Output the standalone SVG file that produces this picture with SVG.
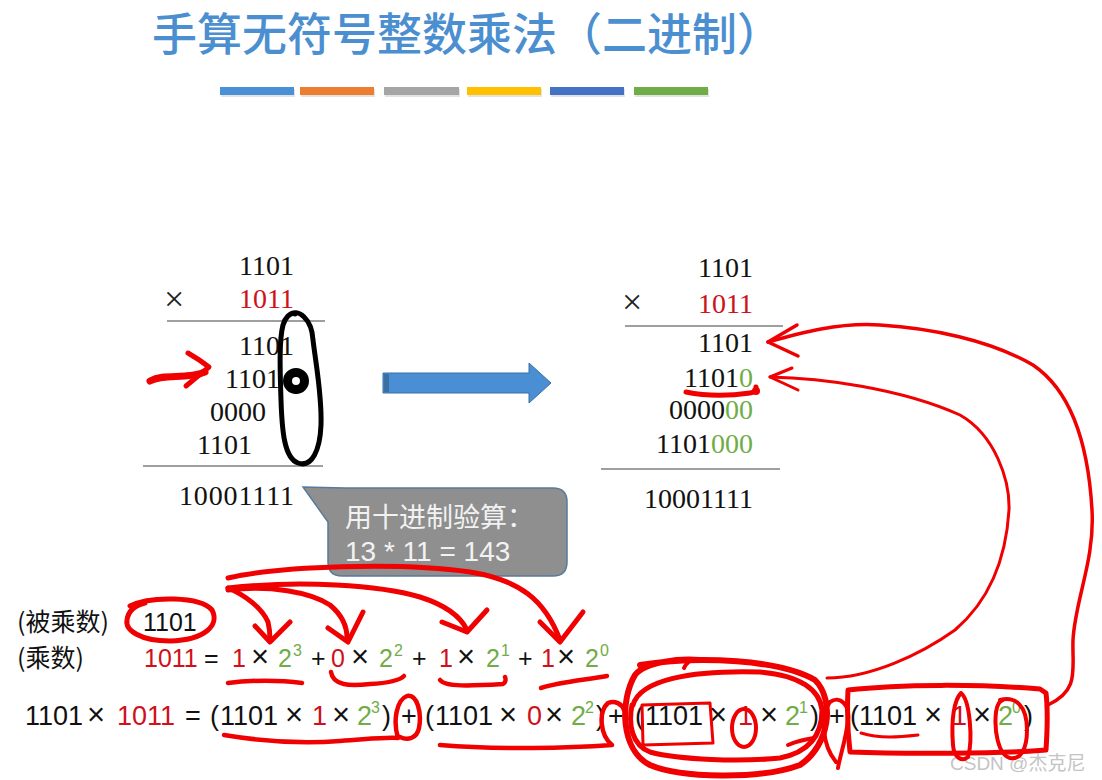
<svg xmlns="http://www.w3.org/2000/svg" width="1102" height="780" viewBox="0 0 1102 780">
<defs>
<style>
.title{font-family:"Noto Sans CJK SC","Noto Sans",sans-serif;font-size:45px;fill:#4b8fd1;font-weight:500}
.tm{font-family:"Liberation Serif","Times New Roman",serif;font-size:28px;fill:#111}
.tmx{font-family:"Liberation Serif","Times New Roman",serif;font-size:36px;fill:#222}
.red{fill:#d0101a}
.grn{fill:#70ad47}
.blk{fill:#111}
.f{font-family:"Liberation Sans",Arial,sans-serif;font-size:27px;fill:#111}
.f2{font-family:"Liberation Sans",Arial,sans-serif;font-size:25px;fill:#111}
.cjk{font-family:"Noto Sans CJK SC",sans-serif;font-size:25px;fill:#111}
.sup{font-size:16px}
.mul{font-size:31px}
.rule{stroke:#7f7f7f;stroke-width:1.5}
.pen{fill:none;stroke:#f00000;stroke-linecap:round;stroke-linejoin:round}
.ink{fill:none;stroke:#000;stroke-linecap:round;stroke-linejoin:round}
</style>
</defs>
<rect width="1102" height="780" fill="#ffffff"/>

<g id="title">
<text class="title" x="152" y="51">手算无符号整数乘法（二进制）</text>
</g>

<g id="colorbars">
<rect x="221" y="89" width="74" height="8" fill="#d0d0d0" opacity="0.6"/>
<rect x="301" y="89" width="74" height="8" fill="#d0d0d0" opacity="0.6"/>
<rect x="385" y="89" width="75" height="8" fill="#d0d0d0" opacity="0.6"/>
<rect x="468" y="89" width="74" height="8" fill="#d0d0d0" opacity="0.6"/>
<rect x="551" y="89" width="74" height="8" fill="#d0d0d0" opacity="0.6"/>
<rect x="635" y="89" width="74" height="8" fill="#d0d0d0" opacity="0.6"/>
<rect x="220" y="87" width="74" height="8" fill="#4a90d6"/>
<rect x="300" y="87" width="74" height="8" fill="#ed7d31"/>
<rect x="384" y="87" width="75" height="8" fill="#a5a5a5"/>
<rect x="467" y="87" width="74" height="8" fill="#ffc000"/>
<rect x="550" y="87" width="74" height="8" fill="#4472c4"/>
<rect x="634" y="87" width="74" height="8" fill="#70ad47"/>
</g>

<g id="left-calc">
<text class="tm" x="294" y="275" text-anchor="end">1101</text>
<text class="tmx" x="164" y="311">×</text>
<text class="tm red" x="294" y="308" text-anchor="end">1011</text>
<line class="rule" x1="167" y1="321" x2="325" y2="321"/>
<text class="tm" x="294" y="355" text-anchor="end">1101</text>
<text class="tm" x="280" y="388" text-anchor="end">1101</text>
<text class="tm" x="266" y="421" text-anchor="end">0000</text>
<text class="tm" x="252" y="454" text-anchor="end">1101</text>
<line class="rule" x1="143" y1="466" x2="323" y2="466"/>
<text class="tm" x="294" y="505" text-anchor="end" textLength="115" lengthAdjust="spacing">10001111</text>
</g>

<g id="right-calc">
<text class="tm" x="753" y="277" text-anchor="end">1101</text>
<text class="tmx" x="622" y="314">×</text>
<text class="tm red" x="753" y="313" text-anchor="end">1011</text>
<line class="rule" x1="625" y1="326" x2="783" y2="326"/>
<text class="tm" x="753" y="352" text-anchor="end">1101</text>
<text class="tm" x="753" y="387" text-anchor="end">1101<tspan class="grn">0</tspan></text>
<text class="tm" x="753" y="419" text-anchor="end">0000<tspan class="grn">00</tspan></text>
<text class="tm" x="753" y="453" text-anchor="end">1101<tspan class="grn">000</tspan></text>
<line class="rule" x1="601" y1="469" x2="780" y2="469"/>
<text class="tm" x="753" y="508" text-anchor="end">10001111</text>
</g>

<g id="block-arrow">
<path d="M383,373 H529 V363 L551,383 L529,403 V393 H383 Z" fill="#4a8fd3" stroke="#3b6ea5" stroke-width="1"/>
<rect x="384" y="374" width="5" height="18" fill="#3a6fa6"/>
</g>

<g id="callout">
<path d="M303,487 L345,488 H553 Q567,488 567,502 V562 Q567,576 553,576 H342 Q328,576 328,562 V522 Z" fill="#8f8f8f" stroke="#587a9c" stroke-width="1.5"/>
<text x="345" y="527" style="font-family:'Noto Sans CJK SC',sans-serif;font-size:27px;fill:#f2f2f2">用十进制验算：</text>
<text x="345" y="561" style="font-family:'Liberation Sans',Arial,sans-serif;font-size:28px;fill:#f2f2f2">13 * 11 = 143</text>
</g>

<g id="row-multiplicand">
<text class="cjk" x="17" y="631">(被乘数)</text>
<text class="f2" x="143" y="631">1101</text>
</g>

<g id="row-multiplier">
<text class="cjk" x="17" y="667">(乘数)</text>
<text class="f2" y="667"><tspan class="red" x="144">1011</tspan><tspan x="204">=</tspan><tspan class="red" x="232">1</tspan><tspan class="mul" x="251">×</tspan><tspan class="grn" x="278">2</tspan><tspan class="grn sup" x="293" y="656">3</tspan><tspan x="311" y="667">+</tspan><tspan class="red" x="331">0</tspan><tspan class="mul" x="351">×</tspan><tspan class="grn" x="379">2</tspan><tspan class="grn sup" x="394" y="656">2</tspan><tspan x="412" y="667">+</tspan><tspan class="red" x="439">1</tspan><tspan class="mul" x="457">×</tspan><tspan class="grn" x="486">2</tspan><tspan class="grn sup" x="501" y="656">1</tspan><tspan x="518" y="667">+</tspan><tspan class="red" x="541">1</tspan><tspan class="mul" x="557">×</tspan><tspan class="grn" x="585">2</tspan><tspan class="grn sup" x="600" y="656">0</tspan></text>
</g>

<g id="row-product">
<text class="f" y="725"><tspan x="25">1101</tspan><tspan class="mul" x="87">×</tspan><tspan class="red" x="117">1011</tspan><tspan x="185">=</tspan><tspan x="210">(</tspan><tspan x="220">1101</tspan><tspan class="mul" x="285">×</tspan><tspan class="red" x="312">1</tspan><tspan class="mul" x="332">×</tspan><tspan class="grn" x="357">2</tspan><tspan class="grn sup" x="371" y="713">3</tspan><tspan x="382" y="725">)</tspan><tspan x="401">+</tspan><tspan x="425">(</tspan><tspan x="435">1101</tspan><tspan class="mul" x="499">×</tspan><tspan class="red" x="527">0</tspan><tspan class="mul" x="545">×</tspan><tspan class="grn" x="571">2</tspan><tspan class="grn sup" x="585" y="713">2</tspan><tspan x="596" y="725">)</tspan><tspan x="608">+</tspan><tspan x="635">(</tspan><tspan x="645">1101</tspan><tspan class="mul" x="709">×</tspan><tspan class="red" x="738">1</tspan><tspan class="mul" x="760">×</tspan><tspan class="grn" x="785">2</tspan><tspan class="grn sup" x="799" y="713">1</tspan><tspan x="810" y="725">)</tspan><tspan x="829">+</tspan><tspan x="850">(</tspan><tspan x="859">1101</tspan><tspan class="mul" x="924">×</tspan><tspan class="red" x="952">1</tspan><tspan class="mul" x="973">×</tspan><tspan class="grn" x="998">2</tspan><tspan class="grn sup" x="1012" y="713">0</tspan><tspan x="1024" y="725">)</tspan></text>
</g>

<g id="watermark">
<text x="950" y="770" style="font-family:'Liberation Sans','Noto Sans CJK SC',sans-serif;font-size:19px;fill:#c4c4c4">CSDN @杰克尼</text>
</g>

<g id="annotations">
<path class="ink" stroke-width="5" d="M288,316 C298,306 312,320 313,340 C316,365 322,395 321,425 C320,450 312,468 298,463 C284,458 282,430 281,400 C280,370 279,340 283,325 C285,318 290,312 295,314"/>
<circle cx="296" cy="381" r="8.5" fill="#fff" stroke="#000" stroke-width="9"/>
<path class="pen" stroke-width="5" d="M686,392 Q715,398 750,393 Q757,392 756,387"/>
<circle cx="756" cy="391" r="4" fill="#f00000"/>
<path class="pen" stroke-width="5" d="M130,606 C150,596 200,596 212,610 C220,625 205,640 170,641 C140,641 125,630 127,620 C128,612 133,606 145,603"/>
<path class="pen" stroke-width="4.5" d="M228,683 C250,680 280,680 302,683"/>
<path class="pen" stroke-width="4.5" d="M331,672 C333,686 350,686 370,684 C390,683 400,680 404,676"/>
<path class="pen" stroke-width="4.5" d="M440,680 C445,687 470,686 503,684 C506,682 506,679 505,677"/>
<path class="pen" stroke-width="4.5" d="M541,688 C560,682 585,680 607,676"/>
<path class="pen" stroke-width="4.5" d="M224,735 C260,741 300,744 340,741 C370,739 385,737 398,738 C393,722 396,700 407,696 C417,694 422,712 419,728 C417,738 408,741 400,737"/>
<path class="pen" stroke-width="4.5" d="M440,745 C500,750 570,748 612,745 C600,735 598,712 608,703 C615,700 622,704 624,710"/>
<path class="pen" stroke-width="6" d="M640,665 C700,655 780,660 815,680 C835,700 830,745 800,765 C760,780 680,778 650,765 C620,750 620,700 635,675 C645,662 680,658 700,660"/>
<path class="pen" stroke-width="5" d="M633,705 C640,680 690,670 760,672 C800,675 820,690 822,710 C822,735 810,752 780,758 C740,762 680,760 650,752 C632,745 628,725 632,705"/>
<path class="pen" stroke-width="4" d="M684,668 C688,660 694,658 700,660"/>
<path class="pen" stroke-width="3" d="M642,705 L710,703 L713,743 L643,745 Z"/>
<ellipse class="pen" stroke-width="4" cx="744" cy="728" rx="12" ry="19"/>
<path class="pen" stroke-width="4" d="M788,745 Q800,740 814,738"/>
<path class="pen" stroke-width="4" d="M836,762 C822,745 820,715 830,702 C840,695 850,705 848,720 C846,740 840,755 838,768"/>
<path class="pen" stroke-width="5" d="M848,690 C900,684 980,684 1040,689 L1046,693 C1048,710 1047,735 1046,750 C1000,754 900,754 850,752 C848,735 847,710 848,690 Z"/>
<path class="pen" stroke-width="4" d="M961,693 C970,700 973,740 968,757 C962,762 954,758 953,745 C951,720 954,700 961,693"/>
<path class="pen" stroke-width="4" d="M1000,700 C1015,696 1027,705 1027,730 C1027,750 1020,760 1010,758 C998,755 994,730 996,712 C997,705 999,701 1003,700"/>
<path class="pen" stroke-width="3" d="M861,733 C880,739 900,737 918,735"/>
</g>

<g id="connectors">
<path class="pen" stroke-width="7" d="M150,381 C165,373 185,380 205,372"/>
<path class="pen" stroke-width="5" d="M188,353 Q200,360 209,367 Q198,376 186,386"/>
<path class="pen" stroke-width="5" d="M228,578 C280,566 400,562 470,572 C520,580 545,600 560,640"/>
<path class="pen" stroke-width="5" d="M540,622 L560,642 L583,612"/>
<path class="pen" stroke-width="5" d="M228,588 C300,580 380,585 420,597 C445,605 460,615 467,630"/>
<path class="pen" stroke-width="5" d="M442,622 L467,632 L487,610"/>
<path class="pen" stroke-width="5" d="M228,590 C270,585 310,592 330,605 C342,615 347,625 347,638"/>
<path class="pen" stroke-width="5" d="M328,628 L348,642 L363,612"/>
<path class="pen" stroke-width="5" d="M228,588 C245,595 262,608 268,622 C270,630 270,636 270,640"/>
<path class="pen" stroke-width="5" d="M255,626 L270,642 L290,622"/>
<path class="pen" stroke-width="3.5" d="M768,342 C800,333 840,322 880,325 C930,328 990,340 1033,365 C1070,390 1088,440 1092,510 C1095,560 1075,600 1073,640 C1072,670 1080,690 1048,705"/>
<path class="pen" stroke-width="3.5" d="M797,325 L768,342 L798,356"/>
<path class="pen" stroke-width="3" d="M770,377 C820,378 900,388 960,415 C995,435 1010,480 1009,510 C1006,560 990,600 955,630 C920,655 870,678 827,678"/>
<path class="pen" stroke-width="3" d="M792,368 L770,377 L798,390"/>
</g>
</svg>
